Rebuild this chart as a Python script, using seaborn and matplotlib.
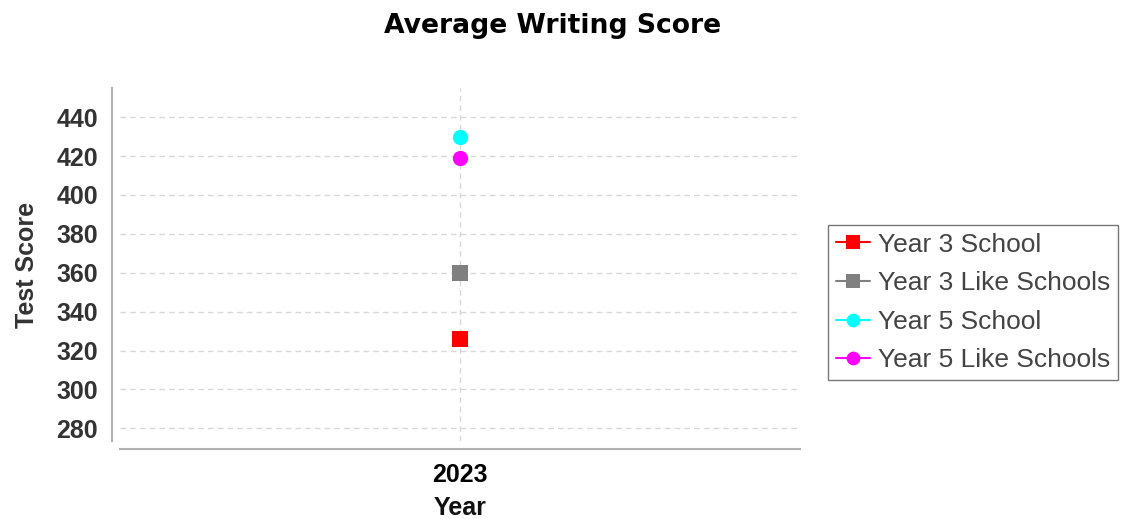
import numpy as np
import matplotlib
matplotlib.use('Agg')
import matplotlib.pyplot as plt
import seaborn as sns
import pandas as pd

# Data
years = [2023, 2023, 2023, 2023]
series = ['Year 3 School', 'Year 3 Like Schools', 'Year 5 School', 'Year 5 Like Schools']
scores = [326, 360, 430, 419]
colors = ['#ff0000', '#808080', '#00ffff', '#ff00ff']
markers = ['s', 's', 'o', 'o']

df = pd.DataFrame({'Year': years, 'Series': series, 'Score': scores})

sns.set_style('white')
plt.rcParams['font.family'] = ['Liberation Sans', 'DejaVu Sans']

fig = plt.figure(figsize=(11.22, 5.19), dpi=100)
ax = fig.add_axes([120 / 1122, 1 - 441 / 519, 680 / 1122, 353 / 519])

sns.lineplot(data=df, x='Year', y='Score', hue='Series', style='Series',
             hue_order=series, style_order=series,
             palette=colors, markers=markers, dashes=False,
             markersize=11, markeredgewidth=0, ax=ax)

ax.set_xlim(2022, 2024)
ax.set_ylim(273.5, 455)
ax.set_xticks([2023])
ax.set_yticks(np.arange(280, 441, 20))

# dashed grid
ax.grid(True, color='#d8d8d8', linestyle=(0, (4, 3)), linewidth=1)

for s in ['top', 'right']:
    ax.spines[s].set_visible(False)
for s in ['left', 'bottom']:
    ax.spines[s].set_color('#b0b0b0')
    ax.spines[s].set_linewidth(1.5)
    ax.spines[s].set_position(('outward', 6))

ax.tick_params(axis='both', which='major', length=4, color='#b0b0b0',
               labelsize=18, labelcolor='#333333', pad=6)
for lbl in ax.get_xticklabels() + ax.get_yticklabels():
    lbl.set_fontweight('bold')
for lbl in ax.get_xticklabels():
    lbl.set_color('#000000')

ax.set_xlabel('Year', fontsize=18, fontweight='bold', color='#111111', labelpad=6)
ax.set_ylabel('Test Score', fontsize=18, fontweight='bold', color='#333333', labelpad=12)

fig.text(553 / 1122, 1 - 33 / 519, 'Average Writing Score', ha='center', va='baseline',
         fontsize=19.2, fontweight='bold', family='DejaVu Sans', color='#000000')

leg = ax.legend(loc='center left', bbox_to_anchor=((828 - 120) / 680, 1 - (302.5 - 88) / 353),
                fontsize=19, frameon=True, fancybox=False, edgecolor='#555555',
                handlelength=1.3, handletextpad=0.3, borderpad=0.3, labelspacing=0.55,
                borderaxespad=0, markerscale=0.9)
for t in leg.get_texts():
    t.set_color('#444444')
leg.get_frame().set_linewidth(1)

fig.savefig('out.png', dpi=100)
